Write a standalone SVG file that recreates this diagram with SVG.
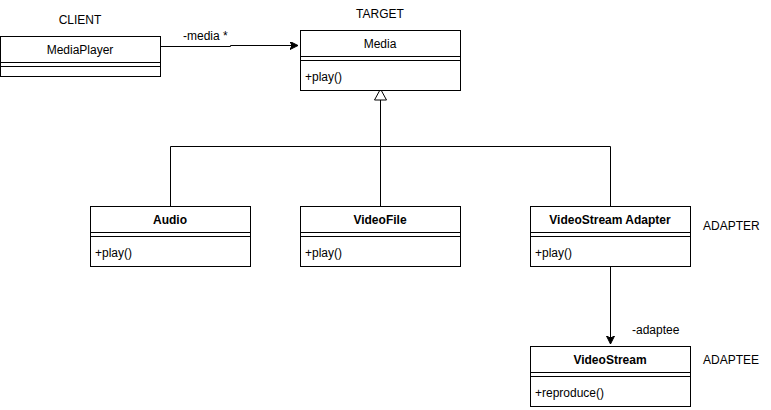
<svg xmlns="http://www.w3.org/2000/svg" width="771" height="410" viewBox="0 0 771 410">
<style>
text{font-family:"Liberation Sans",Arial,sans-serif;font-size:12px;fill:#000}
.box{fill:#fff;stroke:#000;stroke-width:1}
.ln{stroke:#000;stroke-width:1;fill:none}
.b{font-weight:bold}
.c{text-anchor:middle}
</style>
<defs>
<marker id="arr" markerWidth="10" markerHeight="10" refX="8" refY="4" orient="auto" markerUnits="userSpaceOnUse">
<path d="M0,0 L8,4 L0,8 L2,4 Z" fill="#000" stroke="#000" stroke-width="1"/>
</marker>
</defs>
<rect width="771" height="410" fill="#fff"/>
<g id="connectors">
<path class="ln" d="M160.5,46.5 L230.5,46.5 L230.5,45.5 L298,45.5" marker-end="url(#arr)"/>
<text x="183" y="40">-media *</text>
<path class="ln" d="M380.5,100 L380.5,206 M170.5,146.5 L610.5,146.5 M170.5,146.5 L170.5,206 M610.5,146.5 L610.5,206"/>
<path d="M380.5,89 L386.5,100 L374.5,100 Z" fill="#fff" stroke="#000"/>
<path class="ln" d="M610.5,266 L610.5,344" marker-end="url(#arr)"/>
<text x="632" y="334">-adaptee</text>
</g>
<g id="labels">
<text x="80" y="24" class="c">CLIENT</text>
<text x="380" y="18" class="c">TARGET</text>
<text x="703" y="230">ADAPTER</text>
<text x="703" y="364">ADAPTEE</text>
</g>
<g id="MediaPlayer">
<rect class="box" x="0.5" y="36.5" width="160" height="40"/>
<path class="ln" d="M0.5,62.5 H160.5 M0.5,66.5 H160.5"/>
<text x="80" y="53.5" class="c">MediaPlayer</text>
</g>
<g id="Media">
<rect class="box" x="300.5" y="30.5" width="160" height="60"/>
<path class="ln" d="M300.5,56.5 H460.5 M300.5,60.5 H460.5"/>
<text x="380" y="47.5" class="c">Media</text>
<text x="305" y="81">+play()</text>
</g>
<g id="Audio">
<rect class="box" x="90.5" y="206.5" width="160" height="60"/>
<path class="ln" d="M90.5,232.5 H250.5 M90.5,236.5 H250.5"/>
<text x="170" y="223.5" class="c b">Audio</text>
<text x="95" y="257">+play()</text>
</g>
<g id="VideoFile">
<rect class="box" x="300.5" y="206.5" width="160" height="60"/>
<path class="ln" d="M300.5,232.5 H460.5 M300.5,236.5 H460.5"/>
<text x="380" y="223.5" class="c b">VideoFile</text>
<text x="305" y="257">+play()</text>
</g>
<g id="VideoStreamAdapter">
<rect class="box" x="530.5" y="206.5" width="160" height="60"/>
<path class="ln" d="M530.5,232.5 H690.5 M530.5,236.5 H690.5"/>
<text x="610" y="223.5" class="c b">VideoStream Adapter</text>
<text x="535" y="257">+play()</text>
</g>
<g id="VideoStream">
<rect class="box" x="530.5" y="346.5" width="160" height="60"/>
<path class="ln" d="M530.5,372.5 H690.5 M530.5,376.5 H690.5"/>
<text x="610" y="363.5" class="c b">VideoStream</text>
<text x="535" y="397">+reproduce()</text>
</g>
</svg>
